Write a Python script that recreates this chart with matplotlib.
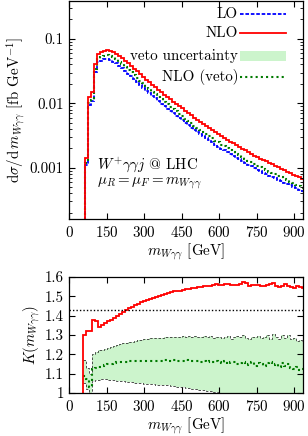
import matplotlib
matplotlib.use('Agg')
import matplotlib.pyplot as plt
import numpy as np
from matplotlib.patches import Rectangle

plt.rcParams['font.family'] = ['cmr10', 'DejaVu Serif']
plt.rcParams['mathtext.fontset'] = 'cm'
plt.rcParams['axes.formatter.use_mathtext'] = True
plt.rcParams['font.size'] = 10.8

# histogram bins (GeV)
BIN_W = 12
TOP_START = 61
K_START = 53

# d sigma / d m  [fb/GeV], top panel
NLO = [0.0014, 0.0125, 0.0147, 0.041, 0.0586, 0.062, 0.065, 0.066, 0.0645, 0.0617,
       0.0581, 0.0539, 0.0497, 0.0454, 0.0414, 0.0377, 0.0343, 0.0311, 0.0283, 0.0257,
       0.0233, 0.0212, 0.0194, 0.0178, 0.0163, 0.0149, 0.0136, 0.0125, 0.0115, 0.0106,
       0.00979, 0.00902, 0.00831, 0.00765, 0.00705, 0.00649, 0.00598, 0.00555, 0.00517, 0.00479,
       0.00446, 0.00414, 0.00386, 0.00358, 0.00333, 0.00309, 0.00288, 0.00270, 0.00253, 0.00238,
       0.00223, 0.00210, 0.00197, 0.00185, 0.00174, 0.00164, 0.00154, 0.00146, 0.00138, 0.00131,
       0.00125, 0.00118, 0.00113, 0.00107, 0.00101, 0.000961, 0.000914, 0.000867, 0.000825, 0.000782,
       0.000743, 0.000705, 0.000671]
LO = [0.0011, 0.0095, 0.0107, 0.0301, 0.0437, 0.0459, 0.0478, 0.0482, 0.0467, 0.0444,
      0.0415, 0.0382, 0.0350, 0.0317, 0.0288, 0.0261, 0.0237, 0.0213, 0.0193, 0.0175,
      0.0157, 0.0143, 0.0130, 0.0119, 0.0109, 0.0099, 0.0090, 0.00825, 0.00757, 0.00695,
      0.00640, 0.00590, 0.00541, 0.00497, 0.00458, 0.00420, 0.00387, 0.00358, 0.00334, 0.00309,
      0.00287, 0.00266, 0.00247, 0.00229, 0.00213, 0.00198, 0.00185, 0.00173, 0.00162, 0.00153,
      0.00143, 0.00135, 0.00126, 0.00118, 0.00112, 0.00105, 0.000987, 0.000936, 0.000885, 0.000840,
      0.000806, 0.000756, 0.000722, 0.000690, 0.000652, 0.000616, 0.000588, 0.000559, 0.000532, 0.000505,
      0.000481, 0.000456, 0.000434]
NLO_VETO = [0.0012, 0.0102, 0.0112, 0.0337, 0.0494, 0.0523, 0.0547, 0.0554, 0.0537, 0.0513,
            0.0479, 0.0443, 0.0406, 0.0368, 0.0334, 0.0304, 0.0276, 0.0248, 0.0225, 0.0204,
            0.0183, 0.0167, 0.0151, 0.0139, 0.0127, 0.0116, 0.0105, 0.00961, 0.00886, 0.00810,
            0.00746, 0.00687, 0.00630, 0.00579, 0.00531, 0.00487, 0.00449, 0.00415, 0.00386, 0.00358,
            0.00331, 0.00307, 0.00287, 0.00263, 0.00247, 0.00228, 0.00214, 0.00199, 0.00187, 0.00176,
            0.00165, 0.00155, 0.00146, 0.00136, 0.00128, 0.00121, 0.00113, 0.00108, 0.00101, 0.000966,
            0.000919, 0.000869, 0.000827, 0.000794, 0.000743, 0.000708, 0.000670, 0.000640, 0.000601, 0.000576,
            0.000541, 0.000515, 0.000488]

# K factors, bottom panel
K_NLO = [1.30, 1.32, 1.32, 1.38, 1.37, 1.34, 1.35, 1.36, 1.37, 1.38,
         1.39, 1.40, 1.41, 1.42, 1.43, 1.44, 1.445, 1.455, 1.46, 1.47,
         1.475, 1.48, 1.485, 1.49, 1.495, 1.50, 1.505, 1.51, 1.515, 1.52,
         1.525, 1.528, 1.53, 1.535, 1.538, 1.54, 1.543, 1.545, 1.548, 1.55,
         1.552, 1.553, 1.555, 1.56, 1.565, 1.56, 1.56, 1.562, 1.565, 1.56,
         1.558, 1.56, 1.565, 1.572, 1.568, 1.555, 1.56, 1.558, 1.56, 1.552,
         1.555, 1.56, 1.565, 1.57, 1.555, 1.548, 1.555, 1.562, 1.555, 1.55,
         1.545, 1.552, 1.548, 1.545]
K_VETO = [1.09, 1.07, 1.03, 1.125, 1.13, 1.135, 1.14, 1.145, 1.15, 1.152,
          1.155, 1.158, 1.16, 1.16, 1.162, 1.163, 1.165, 1.165, 1.166, 1.165,
          1.167, 1.168, 1.166, 1.168, 1.167, 1.168, 1.166, 1.17, 1.168, 1.166,
          1.17, 1.167, 1.168, 1.165, 1.17, 1.166, 1.163, 1.168, 1.165, 1.16,
          1.166, 1.162, 1.168, 1.158, 1.165, 1.16, 1.155, 1.163, 1.15, 1.158,
          1.16, 1.148, 1.155, 1.16, 1.145, 1.152, 1.158, 1.14, 1.155, 1.148,
          1.142, 1.156, 1.16, 1.145, 1.15, 1.135, 1.155, 1.14, 1.15, 1.13,
          1.125, 1.135, 1.12, 1.125]
K_BAND_HI = [1.17, 1.13, 1.10, 1.20, 1.21, 1.22, 1.225, 1.23, 1.235, 1.24,
             1.245, 1.25, 1.253, 1.257, 1.26, 1.263, 1.266, 1.27, 1.272, 1.275,
             1.278, 1.28, 1.282, 1.283, 1.285, 1.286, 1.287, 1.288, 1.289, 1.29,
             1.29, 1.292, 1.292, 1.295, 1.29, 1.293, 1.29, 1.295, 1.29, 1.288,
             1.293, 1.29, 1.295, 1.285, 1.29, 1.292, 1.282, 1.29, 1.295, 1.28,
             1.29, 1.295, 1.29, 1.30, 1.285, 1.28, 1.29, 1.288, 1.295, 1.285,
             1.29, 1.30, 1.28, 1.305, 1.29, 1.28, 1.298, 1.285, 1.30, 1.28,
             1.285, 1.27, 1.275, 1.265]
K_BAND_LO = [1.05, 1.02, 1.00, 1.06, 1.065, 1.068, 1.07, 1.07, 1.068, 1.066,
             1.065, 1.063, 1.062, 1.06, 1.058, 1.056, 1.055, 1.053, 1.052, 1.05,
             1.048, 1.047, 1.046, 1.045, 1.044, 1.043, 1.042, 1.04, 1.04, 1.038,
             1.035, 1.033, 1.03, 1.03, 1.028, 1.025, 1.022, 1.02, 1.018, 1.015,
             1.013, 1.01, 1.008, 1.005, 1.003, 1.0, 0.998, 0.997, 0.995, 0.995,
             0.99, 0.99, 0.99, 0.99, 0.99, 0.99, 0.99, 0.99, 0.99, 0.99,
             0.99, 0.99, 0.99, 0.99, 0.99, 0.99, 0.99, 0.99, 0.99, 0.99,
             0.99, 0.99, 0.99, 0.99]
K_MEAN = 1.43

XTICKS = [0, 150, 300, 450, 600, 750, 900]
YTICKS_TOP = [0.001, 0.01, 0.1]
YLABELS_TOP = ['0.001', '0.01', '0.1']
YTICKS_K = [1, 1.1, 1.2, 1.3, 1.4, 1.5, 1.6]
YLABELS_K = ['1', '1.1', '1.2', '1.3', '1.4', '1.5', '1.6']

top_edges = TOP_START + BIN_W * np.arange(len(NLO) + 1)
k_edges = K_START + BIN_W * np.arange(len(K_NLO) + 1)

RED = '#ff0000'
BLUE = '#0000ff'
GREEN = '#007a00'
BAND = '#ccf4cc'

fig = plt.figure(figsize=(3.08, 4.36), dpi=100)
ax = fig.add_axes([0.225, 0.4977, 0.759, 0.499])
ax2 = fig.add_axes([0.225, 0.0986, 0.759, 0.2661])

# top panel
ax.stairs(LO, top_edges, baseline=1e-6, color=BLUE, lw=1.3, ls=(0, (2, 1)))
ax.stairs(NLO_VETO, top_edges, baseline=1e-6, color=GREEN, lw=1.5, ls=(0, (1, 1.5)))
ax.stairs(NLO, top_edges, baseline=1e-6, color=RED, lw=1.3)
ax.set_yscale('log')
ax.set_xlim(0, 935)
ax.set_ylim(1.6e-4, 0.38)
ax.set_xticks(XTICKS)
ax.set_yticks(YTICKS_TOP)
ax.set_yticklabels(YLABELS_TOP)
ax.set_xlabel(r'$m_{W\gamma\gamma}$ [GeV]', labelpad=1)
ax.set_ylabel(r'$\mathrm{d}\sigma/\mathrm{d}\,m_{W\gamma\gamma}$ [fb GeV$^{-1}$]', labelpad=2)

# legend, gnuplot style (text right, sample left)
leg_items = [('LO', BLUE, (0, (2, 1)), 0.9425), ('NLO', RED, '-', 0.854),
             ('veto uncertainty', None, None, 0.749), ('NLO (veto)', GREEN, (0, (1, 1.5)), 0.651)]
for label, col, ls, yy in leg_items:
    ax.text(0.722, yy, label, transform=ax.transAxes, ha='right', va='center')
    if col is None:
        ax.add_patch(Rectangle((0.732, yy - 0.025), 0.195, 0.05, transform=ax.transAxes,
                               facecolor=BAND, edgecolor='none'))
    else:
        ax.plot([0.732, 0.927], [yy, yy], transform=ax.transAxes, color=col, ls=ls,
                lw=1.5 if col == GREEN else 1.3)

ax.text(0.118, 0.248, r'$W^{+}\gamma\gamma j$ @ LHC', transform=ax.transAxes, va='center')
ax.text(0.118, 0.166, r'$\mu_R=\mu_F=m_{W\gamma\gamma}$', transform=ax.transAxes, va='center')

# bottom panel
ax2.stairs(K_BAND_HI, k_edges, baseline=K_BAND_LO, fill=True, color=BAND, lw=0)
ax2.stairs(K_BAND_HI, k_edges, baseline=None, color='#333333', lw=0.6, ls=(0, (3, 2)))
ax2.stairs(K_BAND_LO, k_edges, baseline=None, color='#333333', lw=0.6, ls=(0, (3, 2)))
ax2.stairs(K_VETO, k_edges, baseline=None, color=GREEN, lw=1.5, ls=(0, (1, 1.5)))
ax2.stairs(K_NLO, k_edges, baseline=0, color=RED, lw=1.3)
ax2.axhline(K_MEAN, color='black', lw=1.0, ls=(0, (1, 1.5)))
ax2.set_xlim(0, 935)
ax2.set_ylim(1.0, 1.6)
ax2.set_xticks(XTICKS)
ax2.set_yticks(YTICKS_K)
ax2.set_yticklabels(YLABELS_K)
ax2.set_xlabel(r'$m_{W\gamma\gamma}$ [GeV]', labelpad=1)
ax2.set_ylabel(r'$K(m_{W\gamma\gamma})$', labelpad=2)

for a in (ax, ax2):
    a.tick_params(which='both', direction='in', top=True, right=True)
    a.tick_params(which='major', length=4, width=0.8, pad=4)
    a.tick_params(which='minor', length=2, width=0.6)
    for s in a.spines.values():
        s.set_linewidth(0.9)
ax2.minorticks_off()

fig.savefig('out.png', dpi=100)
